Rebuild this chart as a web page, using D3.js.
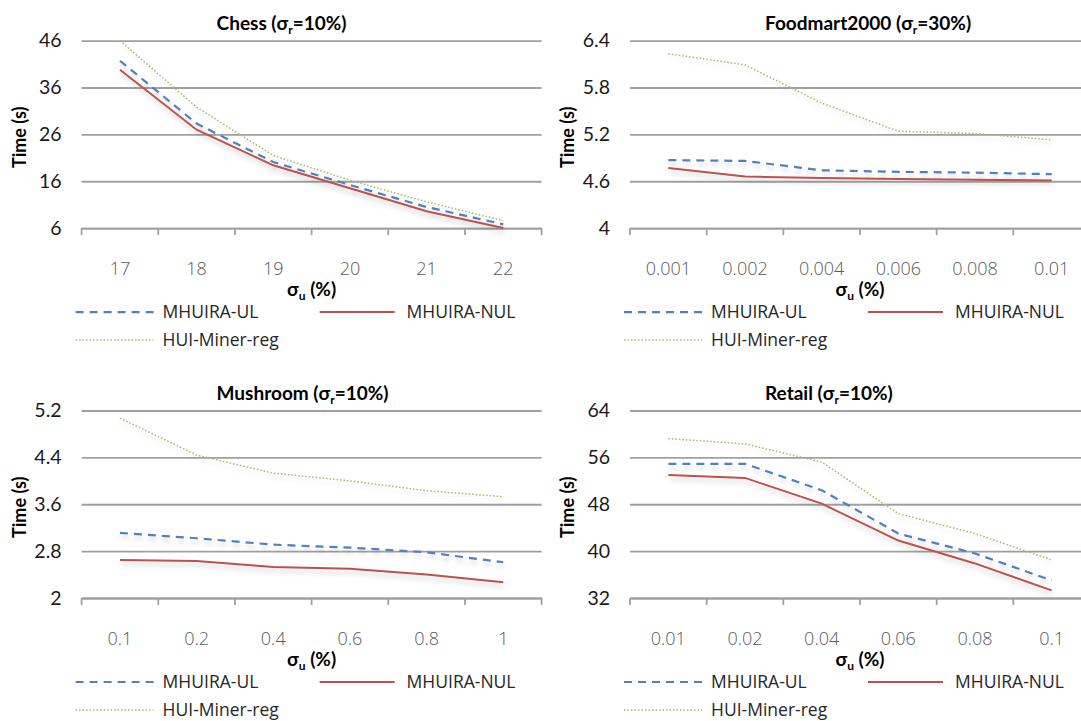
<!DOCTYPE html>
<html>
<head>
<meta charset="utf-8">
<script src="https://cdn.jsdelivr.net/npm/d3@7"></script>
<style>
  body { margin: 0; background: #fff; }
  svg { display: block; }
</style>
</head>
<body>
<div id="chart"></div>
<script>
// ---- data ----
var seriesNames = ["MHUIRA-UL", "MHUIRA-NUL", "HUI-Miner-reg"];

var chessCats = ["17", "18", "19", "20", "21", "22"];
var chessTicks = [6, 16, 26, 36, 46];
var chessUL  = [41.7, 28.3, 20.1, 15.2, 10.5, 6.8];
var chessNUL = [39.8, 27.0, 19.4, 14.5, 9.6, 6.0];
var chessHUI = [46.0, 31.8, 21.5, 16.2, 11.6, 7.6];

var foodCats = ["0.001", "0.002", "0.004", "0.006", "0.008", "0.01"];
var foodTicks = [4, 4.6, 5.2, 5.8, 6.4];
var foodUL  = [4.87, 4.86, 4.74, 4.72, 4.71, 4.69];
var foodNUL = [4.77, 4.66, 4.64, 4.63, 4.62, 4.61];
var foodHUI = [6.23, 6.09, 5.60, 5.24, 5.21, 5.13];

var mushCats = ["0.1", "0.2", "0.4", "0.6", "0.8", "1"];
var mushTicks = [2, 2.8, 3.6, 4.4, 5.2];
var mushUL  = [3.11, 3.02, 2.91, 2.86, 2.78, 2.61];
var mushNUL = [2.65, 2.63, 2.53, 2.50, 2.40, 2.27];
var mushHUI = [5.07, 4.44, 4.13, 4.00, 3.83, 3.73];

var retailCats = ["0.01", "0.02", "0.04", "0.06", "0.08", "0.1"];
var retailTicks = [32, 40, 48, 56, 64];
var retailUL  = [54.9, 54.9, 50.4, 43.0, 39.6, 35.0];
var retailNUL = [53.0, 52.5, 48.1, 41.8, 37.9, 33.3];
var retailHUI = [59.2, 58.3, 55.2, 46.4, 43.0, 38.5];

// ---- layout ----
var W = 1081, H = 721;
var pw = 460, ph = 187.5;

var svg = d3.select("#chart").append("svg")
    .attr("width", W)
    .attr("height", H);

var defs = svg.append("defs");
var f = defs.append("filter").attr("id", "shadow")
    .attr("x", "-5%").attr("y", "-20%").attr("width", "110%").attr("height", "160%");
f.append("feDropShadow")
    .attr("dx", 1).attr("dy", 4).attr("stdDeviation", 2.5)
    .attr("flood-color", "#000").attr("flood-opacity", 0.18);

var styles = [
    { color: "#4F81BD", width: 2.2, dash: "8,6" },
    { color: "#C0504D", width: 2, dash: null },
    { color: "#A9B86A", width: 1.5, dash: "1.5,2" }
];

// text with a small subscript part, e.g. σ_r
function subText(t, before, sub, after) {
    t.append("tspan").text(before);
    t.append("tspan").attr("dy", 4).style("font-size", "12px").text(sub);
    t.append("tspan").attr("dy", -4).text(after);
}

function drawPanel(x0, y0, name, pct, cats, ticks, series) {
    var g = svg.append("g").attr("transform", "translate(" + x0 + "," + y0 + ")");

    var x = d3.scaleBand().domain(cats).range([0, pw]);
    var y = d3.scaleLinear().domain([ticks[0], ticks[ticks.length - 1]]).range([ph, 0]);

    // gridlines + y labels
    var ya = g.append("g")
        .call(d3.axisLeft(y).tickValues(ticks).tickSize(-pw).tickPadding(20)
            .tickFormat(function (d) { return d3.format("~g")(d); }));
    ya.select(".domain").remove();
    ya.selectAll(".tick line").attr("stroke", "#A0A0A0").attr("stroke-width", 1.8);
    ya.selectAll(".tick text")
        .attr("fill", "#1a1a1a")
        .style("font-family", "Lato, sans-serif")
        .style("font-size", "19.5px");

    // x axis: baseline, boundary ticks, centred labels
    var xa = g.append("g").attr("transform", "translate(0," + ph + ")")
        .call(d3.axisBottom(x).tickSize(0).tickPadding(34));
    xa.select(".domain").attr("stroke", "#A0A0A0").attr("stroke-width", 1.8);
    xa.selectAll(".tick text")
        .attr("fill", "#595959")
        .style("font-family", "'Open Sans', sans-serif")
        .style("font-weight", "300")
        .style("font-size", "18px");

    g.append("g").selectAll("line")
        .data(d3.range(cats.length + 1))
        .join("line")
        .attr("x1", function (i) { return i * x.step(); })
        .attr("x2", function (i) { return i * x.step(); })
        .attr("y1", ph)
        .attr("y2", ph + 7)
        .attr("stroke", "#A0A0A0")
        .attr("stroke-width", 1.8);

    // lines
    var line = d3.line()
        .x(function (d, i) { return x(cats[i]) + x.bandwidth() / 2; })
        .y(function (d) { return y(d); });

    [2, 0, 1].forEach(function (k) {
        var s = styles[k];
        g.append("path")
            .datum(series[k])
            .attr("d", line)
            .attr("fill", "none")
            .attr("stroke", s.color)
            .attr("stroke-width", s.width)
            .attr("stroke-dasharray", s.dash)
            .attr("filter", "url(#shadow)");
    });

    // title
    var t = g.append("text")
        .attr("x", 135).attr("y", -17).attr("dy", "0.35em")
        .style("font-family", "Lato, sans-serif")
        .style("font-weight", "bold")
        .style("font-size", "19px")
        .attr("fill", "#000");
    subText(t, name + " (\u03c3", "r", "=" + pct + "%)");

    // y title
    g.append("text")
        .attr("transform", "translate(-62," + (ph / 2 + 3) + ") rotate(-90)")
        .attr("text-anchor", "middle").attr("dy", "0.35em")
        .style("font-family", "Lato, sans-serif")
        .style("font-weight", "bold")
        .style("font-size", "18px")
        .text("Time (s)");

    // x title
    var xt = g.append("text")
        .attr("x", pw / 2).attr("y", ph + 61).attr("dy", "0.35em")
        .attr("text-anchor", "middle")
        .style("font-family", "Lato, sans-serif")
        .style("font-weight", "bold")
        .style("font-size", "19px");
    subText(xt, "\u03c3", "u", " (%)");

    // legend
    var legPos = [
        { x1: -6, x2: 72, tx: 81, y: ph + 84 },
        { x1: 238, x2: 313, tx: 325, y: ph + 84 },
        { x1: -6, x2: 72, tx: 81, y: ph + 112 }
    ];
    legPos.forEach(function (p, k) {
        var s = styles[k];
        g.append("line")
            .attr("x1", p.x1).attr("x2", p.x2).attr("y1", p.y).attr("y2", p.y)
            .attr("stroke", s.color)
            .attr("stroke-width", s.width)
            .attr("stroke-dasharray", s.dash);
        g.append("text")
            .attr("x", p.tx).attr("y", p.y).attr("dy", "0.35em")
            .attr("fill", "#262626")
            .style("font-family", "'Open Sans', sans-serif")
            .style("font-size", "17.5px")
            .text(seriesNames[k]);
    });
}

drawPanel(81.6, 40.6, "Chess", 10, chessCats, chessTicks, [chessUL, chessNUL, chessHUI]);
drawPanel(630, 40.6, "Foodmart2000", 30, foodCats, foodTicks, [foodUL, foodNUL, foodHUI]);
drawPanel(81.6, 410.5, "Mushroom", 10, mushCats, mushTicks, [mushUL, mushNUL, mushHUI]);
drawPanel(630, 410.5, "Retail", 10, retailCats, retailTicks, [retailUL, retailNUL, retailHUI]);
</script>
</body>
</html>
